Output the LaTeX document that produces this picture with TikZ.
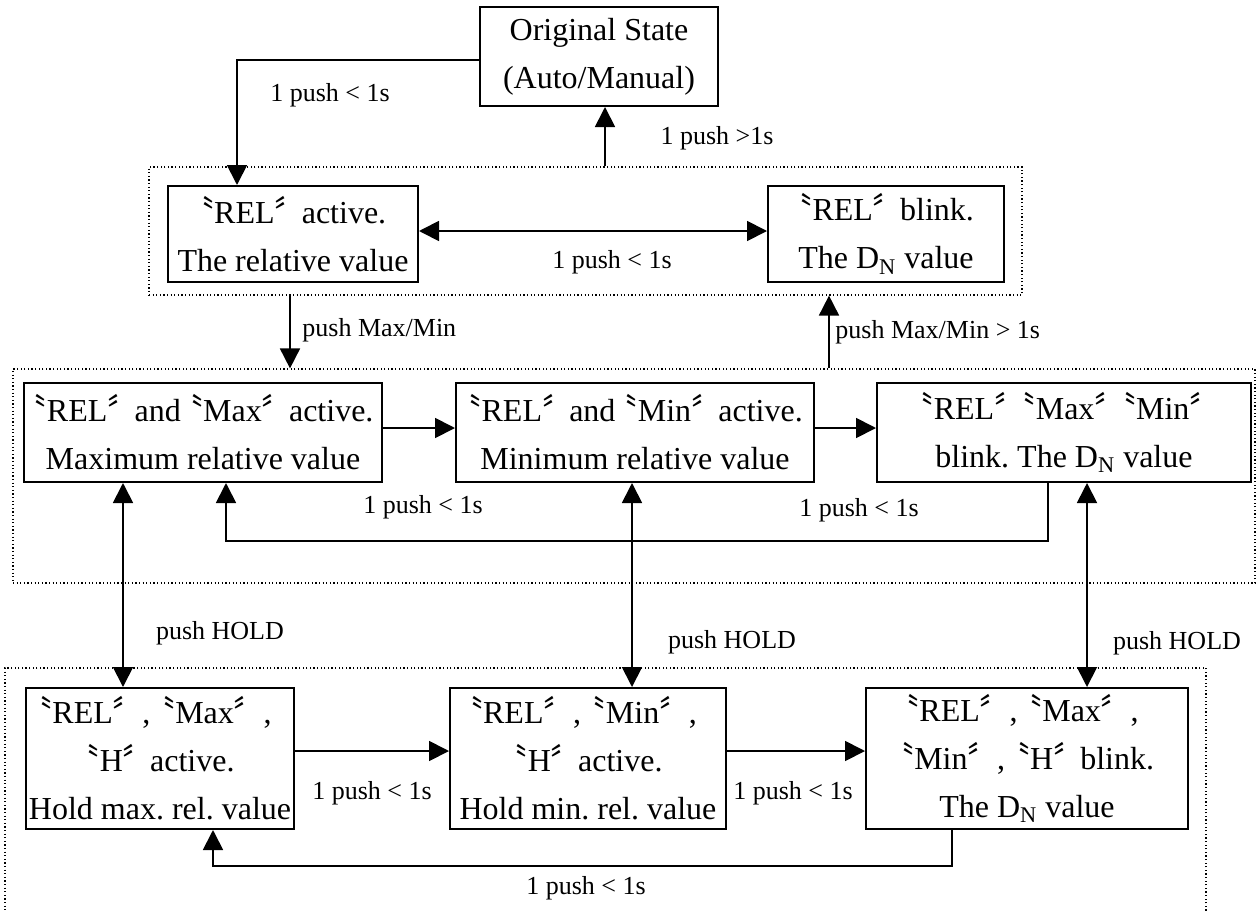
\documentclass[tikz,border=0pt]{standalone}
\usepackage{fontspec}
\setmainfont{Liberation Serif}
\newfontfamily\cjkfont{Noto Sans CJK TC}
\usetikzlibrary{arrows.meta}
\newcommand\myqo{\makebox[0.45em][r]{\cjkfont 〝}}
\newcommand\myqc{\makebox[0.6em][l]{\cjkfont 〞}}
\newcommand\mycm{\makebox[0.9em][c]{,}}
\frenchspacing
\begin{document}
\begin{tikzpicture}[x=0.5pt,y=-0.5pt,
  box/.style={draw, line width=1pt, align=center, inner sep=0pt, font=\fontsize{16}{24}\selectfont},
  grp/.style={draw, line width=0.6pt, dash pattern=on 0.6pt off 1.2pt, inner sep=0pt},
  arr/.style={line width=0.9pt, -{Triangle[length=10pt,width=10pt]}},
  darr/.style={line width=0.9pt, {Triangle[length=10pt,width=10pt]}-{Triangle[length=10pt,width=10pt]}},
  lbl/.style={font=\fontsize{13}{15}\selectfont, inner sep=0pt}]
\useasboundingbox (0,0) rectangle (1257,910);
% group frames
\node[grp, minimum width=436.5pt, minimum height=64pt] (T) at (585.5,231) {};
\node[grp, minimum width=621pt, minimum height=107pt] (M) at (634,476) {};
\node[grp, minimum width=600.5pt, minimum height=131pt] (BT) at (605.5,799) {};
% state boxes
\node[box, minimum width=119pt, minimum height=49.5pt] (O) at (599,56.5) {Original State\\(Auto/Manual)};
\node[box, minimum width=125pt, minimum height=48pt] (R1) at (293,234) {\myqo REL\myqc{} active.\\The relative value};
\node[box, minimum width=118pt, minimum height=48pt] (R2) at (886,234) {\myqo REL\myqc{} blink.\\The D\textsubscript{N} value};
\node[box, minimum width=179pt, minimum height=49.5pt] (A) at (203,432.5) {\myqo REL\myqc{} and \myqo Max\myqc{} active.\\Maximum relative value};
\node[box, minimum width=179pt, minimum height=49.5pt] (B) at (635,432.5) {\myqo REL\myqc{} and \myqo Min\myqc{} active.\\Minimum relative value};
\node[box, minimum width=187pt, minimum height=49.5pt] (C) at (1064,432.5) {\myqo REL\myqc{} \myqo Max\myqc{} \myqo Min\myqc\\blink. The D\textsubscript{N} value};
\node[box, minimum width=134pt, minimum height=70.5pt] (D) at (160,758.5) {\myqo REL\myqc\mycm\myqo Max\myqc\mycm\\\myqo H\myqc{} active.\\Hold max. rel. value};
\node[box, minimum width=138pt, minimum height=70.5pt] (E) at (588,758.5) {\myqo REL\myqc\mycm\myqo Min\myqc\mycm\\\myqo H\myqc{} active.\\Hold min. rel. value};
\node[box, minimum width=161pt, minimum height=70.5pt] (F) at (1027,758.5) {\myqo REL\myqc\mycm\myqo Max\myqc\mycm\\\myqo Min\myqc\mycm\myqo H\myqc{} blink.\\The D\textsubscript{N} value};
% helper coordinates
\coordinate (c1) at (237,60);
\coordinate (c2) at (605,0);
\coordinate (c3) at (290,0);
\coordinate (c4) at (829,0);
\coordinate (c5) at (1048,541);
\coordinate (c6) at (226,541);
\coordinate (v1) at (123,0);
\coordinate (v2) at (632,0);
\coordinate (v3) at (1087,0);
\coordinate (c7) at (952,866);
\coordinate (c8) at (213,866);
\coordinate (r1) at (0,231);
\coordinate (r2) at (0,428);
\coordinate (r3) at (0,751);
% connectors
\draw[arr] (O.west |- c1) -- (c1) -- (c1 |- R1.north);
\draw[arr] (T.north -| c2) -- (O.south -| c2);
\draw[darr] (R1.east |- r1) -- (R2.west |- r1);
\draw[arr] (T.south -| c3) -- (M.north -| c3);
\draw[arr] (M.north -| c4) -- (T.south -| c4);
\draw[arr] (A.east |- r2) -- (B.west |- r2);
\draw[arr] (B.east |- r2) -- (C.west |- r2);
\draw[arr] (C.south -| c5) -- (c5) -- (c6) -- (A.south -| c6);
\draw[darr] (A.south -| v1) -- (D.north -| v1);
\draw[darr] (B.south -| v2) -- (E.north -| v2);
\draw[darr] (C.south -| v3) -- (F.north -| v3);
\draw[arr] (D.east |- r3) -- (E.west |- r3);
\draw[arr] (E.east |- r3) -- (F.west |- r3);
\draw[arr] (F.south -| c7) -- (c7) -- (c8) -- (D.south -| c8);
% labels
\node[lbl] (l1) at (330,95) {1 push < 1s};
\node[lbl] (l2) at (717,138) {1 push >1s};
\node[lbl] (l3) at (612,262) {1 push < 1s};
\node[lbl, anchor=west] (l4) at (302,330) {push Max/Min};
\node[lbl, anchor=west] (l5) at (835,332) {push Max/Min > 1s};
\node[lbl] (l6) at (423,507) {1 push < 1s};
\node[lbl] (l7) at (859,510) {1 push < 1s};
\node[lbl] (l8) at (220,633) {push HOLD};
\node[lbl] (l9) at (732,642) {push HOLD};
\node[lbl] (l10) at (1177,643) {push HOLD};
\node[lbl] (l11) at (372,793) {1 push < 1s};
\node[lbl] (l12) at (793,793) {1 push < 1s};
\node[lbl] (l13) at (586,888) {1 push < 1s};
\end{tikzpicture}
\end{document}
